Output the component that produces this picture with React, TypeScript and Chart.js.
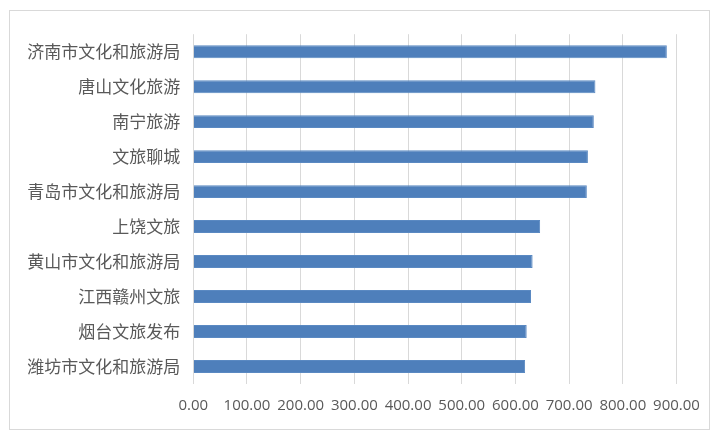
import { useEffect, useRef } from 'react';
import { Chart, registerables } from 'chart.js';

Chart.register(...registerables);

const categories = [
  '济南市文化和旅游局',
  '唐山文化旅游',
  '南宁旅游',
  '文旅聊城',
  '青岛市文化和旅游局',
  '上饶文旅',
  '黄山市文化和旅游局',
  '江西赣州文旅',
  '烟台文旅发布',
  '潍坊市文化和旅游局',
];

const values = [882, 749, 746, 735, 733, 646, 632, 629, 621, 618];

const xMin = 0;
const xMax = 900;
const xStep = 100;

export default function App() {
  const chartRef = useRef<HTMLCanvasElement>(null);
  const chartInstance = useRef<Chart | null>(null);

  useEffect(() => {
    if (!chartRef.current) return;
    const ctx = chartRef.current.getContext('2d');
    if (!ctx) return;

    if (chartInstance.current) {
      chartInstance.current.destroy();
    }

    chartInstance.current = new Chart(ctx, {
      type: 'bar',
      data: {
        labels: categories,
        datasets: [
          {
            data: values,
            backgroundColor: '#4e7fbb',
            borderColor: '#5a89c2',
            borderWidth: 1,
            categoryPercentage: 1,
            barPercentage: 0.37,
          },
        ],
      },
      options: {
        indexAxis: 'y',
        animation: false,
        responsive: true,
        maintainAspectRatio: false,
        layout: {
          padding: { top: 21, right: 0, bottom: 0, left: 0 },
        },
        plugins: {
          legend: { display: false },
          tooltip: { enabled: false },
        },
        scales: {
          x: {
            min: xMin,
            max: xMax,
            grid: {
              color: '#d9d9d9',
              lineWidth: 1,
              drawTicks: false,
            },
            border: { display: false },
            ticks: {
              stepSize: xStep,
              padding: 13,
              color: '#595959',
              font: { family: 'Open Sans', size: 15 },
              callback: (value) => Number(value).toFixed(2),
            },
            afterFit: (scale) => {
              scale.height = 45;
              scale.paddingRight = 32.5;
            },
          },
          y: {
            grid: { display: false, drawTicks: false },
            border: { display: false },
            ticks: {
              padding: 13,
              color: '#595959',
              font: { family: 'Noto Sans CJK SC', size: 17 },
            },
            afterFit: (scale) => {
              scale.width = 183.3;
            },
          },
        },
      },
    });

    return () => {
      if (chartInstance.current) {
        chartInstance.current.destroy();
        chartInstance.current = null;
      }
    };
  }, []);

  return (
    <div style={{ position: 'fixed', left: 0, top: 0, width: 720, height: 442, background: '#fff' }}>
      <div
        style={{
          position: 'absolute',
          left: 9,
          top: 10,
          width: 699,
          height: 418,
          border: '1px solid #d9d9d9',
        }}
      >
        <canvas ref={chartRef} style={{ display: 'block', width: 699, height: 418 }}></canvas>
      </div>
    </div>
  );
}
